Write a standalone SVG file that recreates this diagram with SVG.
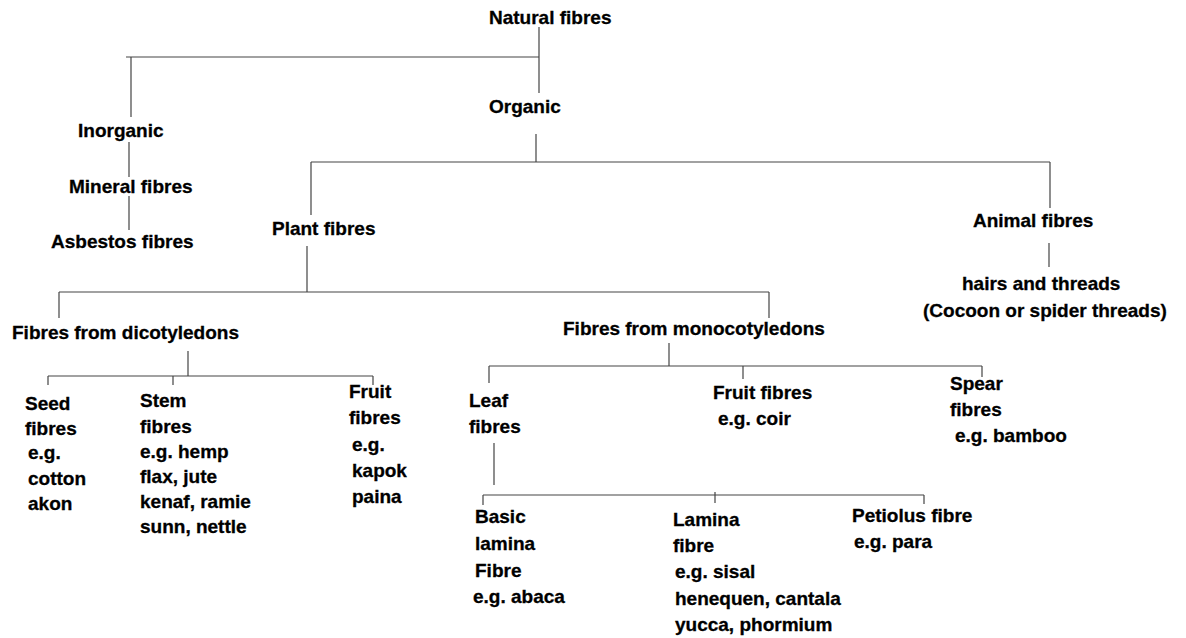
<svg xmlns="http://www.w3.org/2000/svg" width="1186" height="638" viewBox="0 0 1186 638">
<style>
text{font-family:"Liberation Sans",Arial,sans-serif;font-weight:bold;font-size:19px;fill:#000;stroke:#000;stroke-width:0.3}
.c line{stroke:#444;stroke-width:1.2;fill:none}
</style>
<rect width="1186" height="638" fill="#fff"/>
<g id="connectors" class="c">
<line x1="539" y1="27" x2="539" y2="93"/>
<line x1="126" y1="57" x2="539" y2="57"/>
<line x1="131" y1="57" x2="131" y2="117"/>
<line x1="129" y1="142" x2="129" y2="177"/>
<line x1="129" y1="196" x2="129" y2="230"/>
<line x1="536" y1="134" x2="536" y2="162"/>
<line x1="311" y1="162" x2="1050" y2="162"/>
<line x1="311" y1="162" x2="311" y2="215"/>
<line x1="1050" y1="162" x2="1050" y2="208"/>
<line x1="1049" y1="243" x2="1049" y2="267"/>
<line x1="307" y1="246" x2="307" y2="292"/>
<line x1="59" y1="292" x2="769" y2="292"/>
<line x1="59" y1="292" x2="59" y2="318"/>
<line x1="769" y1="292" x2="769" y2="318"/>
<line x1="188" y1="351" x2="188" y2="376"/>
<line x1="48" y1="376" x2="373" y2="376"/>
<line x1="48" y1="376" x2="48" y2="385"/>
<line x1="173" y1="376" x2="173" y2="385"/>
<line x1="373" y1="376" x2="373" y2="385"/>
<line x1="669" y1="343" x2="669" y2="366"/>
<line x1="489" y1="366" x2="982" y2="366"/>
<line x1="489" y1="366" x2="489" y2="383"/>
<line x1="743" y1="366" x2="743" y2="379"/>
<line x1="982" y1="366" x2="982" y2="377"/>
<line x1="494" y1="443" x2="494" y2="485"/>
<line x1="483" y1="495" x2="924" y2="495"/>
<line x1="483" y1="495" x2="483" y2="505"/>
<line x1="715" y1="492" x2="715" y2="503"/>
<line x1="924" y1="495" x2="924" y2="504"/>
</g>
<g id="natural"><text x="489" y="24">Natural fibres</text></g>
<g id="organic"><text x="489" y="113">Organic</text></g>
<g id="inorganic"><text x="78" y="137">Inorganic</text></g>
<g id="mineral"><text x="69" y="193">Mineral fibres</text></g>
<g id="asbestos"><text x="51" y="248">Asbestos fibres</text></g>
<g id="plant"><text x="272" y="235">Plant fibres</text></g>
<g id="animal"><text x="973" y="227">Animal fibres</text></g>
<g id="hairs"><text x="962" y="290">hairs and threads</text><text x="923" y="317">(Cocoon or spider threads)</text></g>
<g id="dicot"><text x="12" y="339">Fibres from dicotyledons</text></g>
<g id="mono"><text x="563" y="335">Fibres from monocotyledons</text></g>
<g id="seed"><text x="25" y="410">Seed</text><text x="25" y="435">fibres</text><text x="28" y="459">e.g.</text><text x="28" y="485">cotton</text><text x="28" y="510">akon</text></g>
<g id="stem"><text x="140" y="407">Stem</text><text x="140" y="433">fibres</text><text x="140" y="458">e.g. hemp</text><text x="140" y="483">flax, jute</text><text x="140" y="508">kenaf, ramie</text><text x="140" y="533">sunn, nettle</text></g>
<g id="fruit-dicot"><text x="349" y="398">Fruit</text><text x="349" y="424">fibres</text><text x="352" y="451">e.g.</text><text x="352" y="477">kapok</text><text x="352" y="503">paina</text></g>
<g id="leaf"><text x="469" y="407">Leaf</text><text x="469" y="433">fibres</text></g>
<g id="fruit-mono"><text x="713" y="399">Fruit fibres</text><text x="718" y="425">e.g. coir</text></g>
<g id="spear"><text x="950" y="390">Spear</text><text x="950" y="416">fibres</text><text x="955" y="442">e.g. bamboo</text></g>
<g id="basic"><text x="475" y="523">Basic</text><text x="475" y="550">lamina</text><text x="475" y="577">Fibre</text><text x="473" y="603">e.g. abaca</text></g>
<g id="lamina"><text x="673" y="526">Lamina</text><text x="673" y="552">fibre</text><text x="675" y="578">e.g. sisal</text><text x="675" y="605">henequen, cantala</text><text x="675" y="631">yucca, phormium</text></g>
<g id="petiolus"><text x="852" y="522">Petiolus fibre</text><text x="854" y="548">e.g. para</text></g>
</svg>
